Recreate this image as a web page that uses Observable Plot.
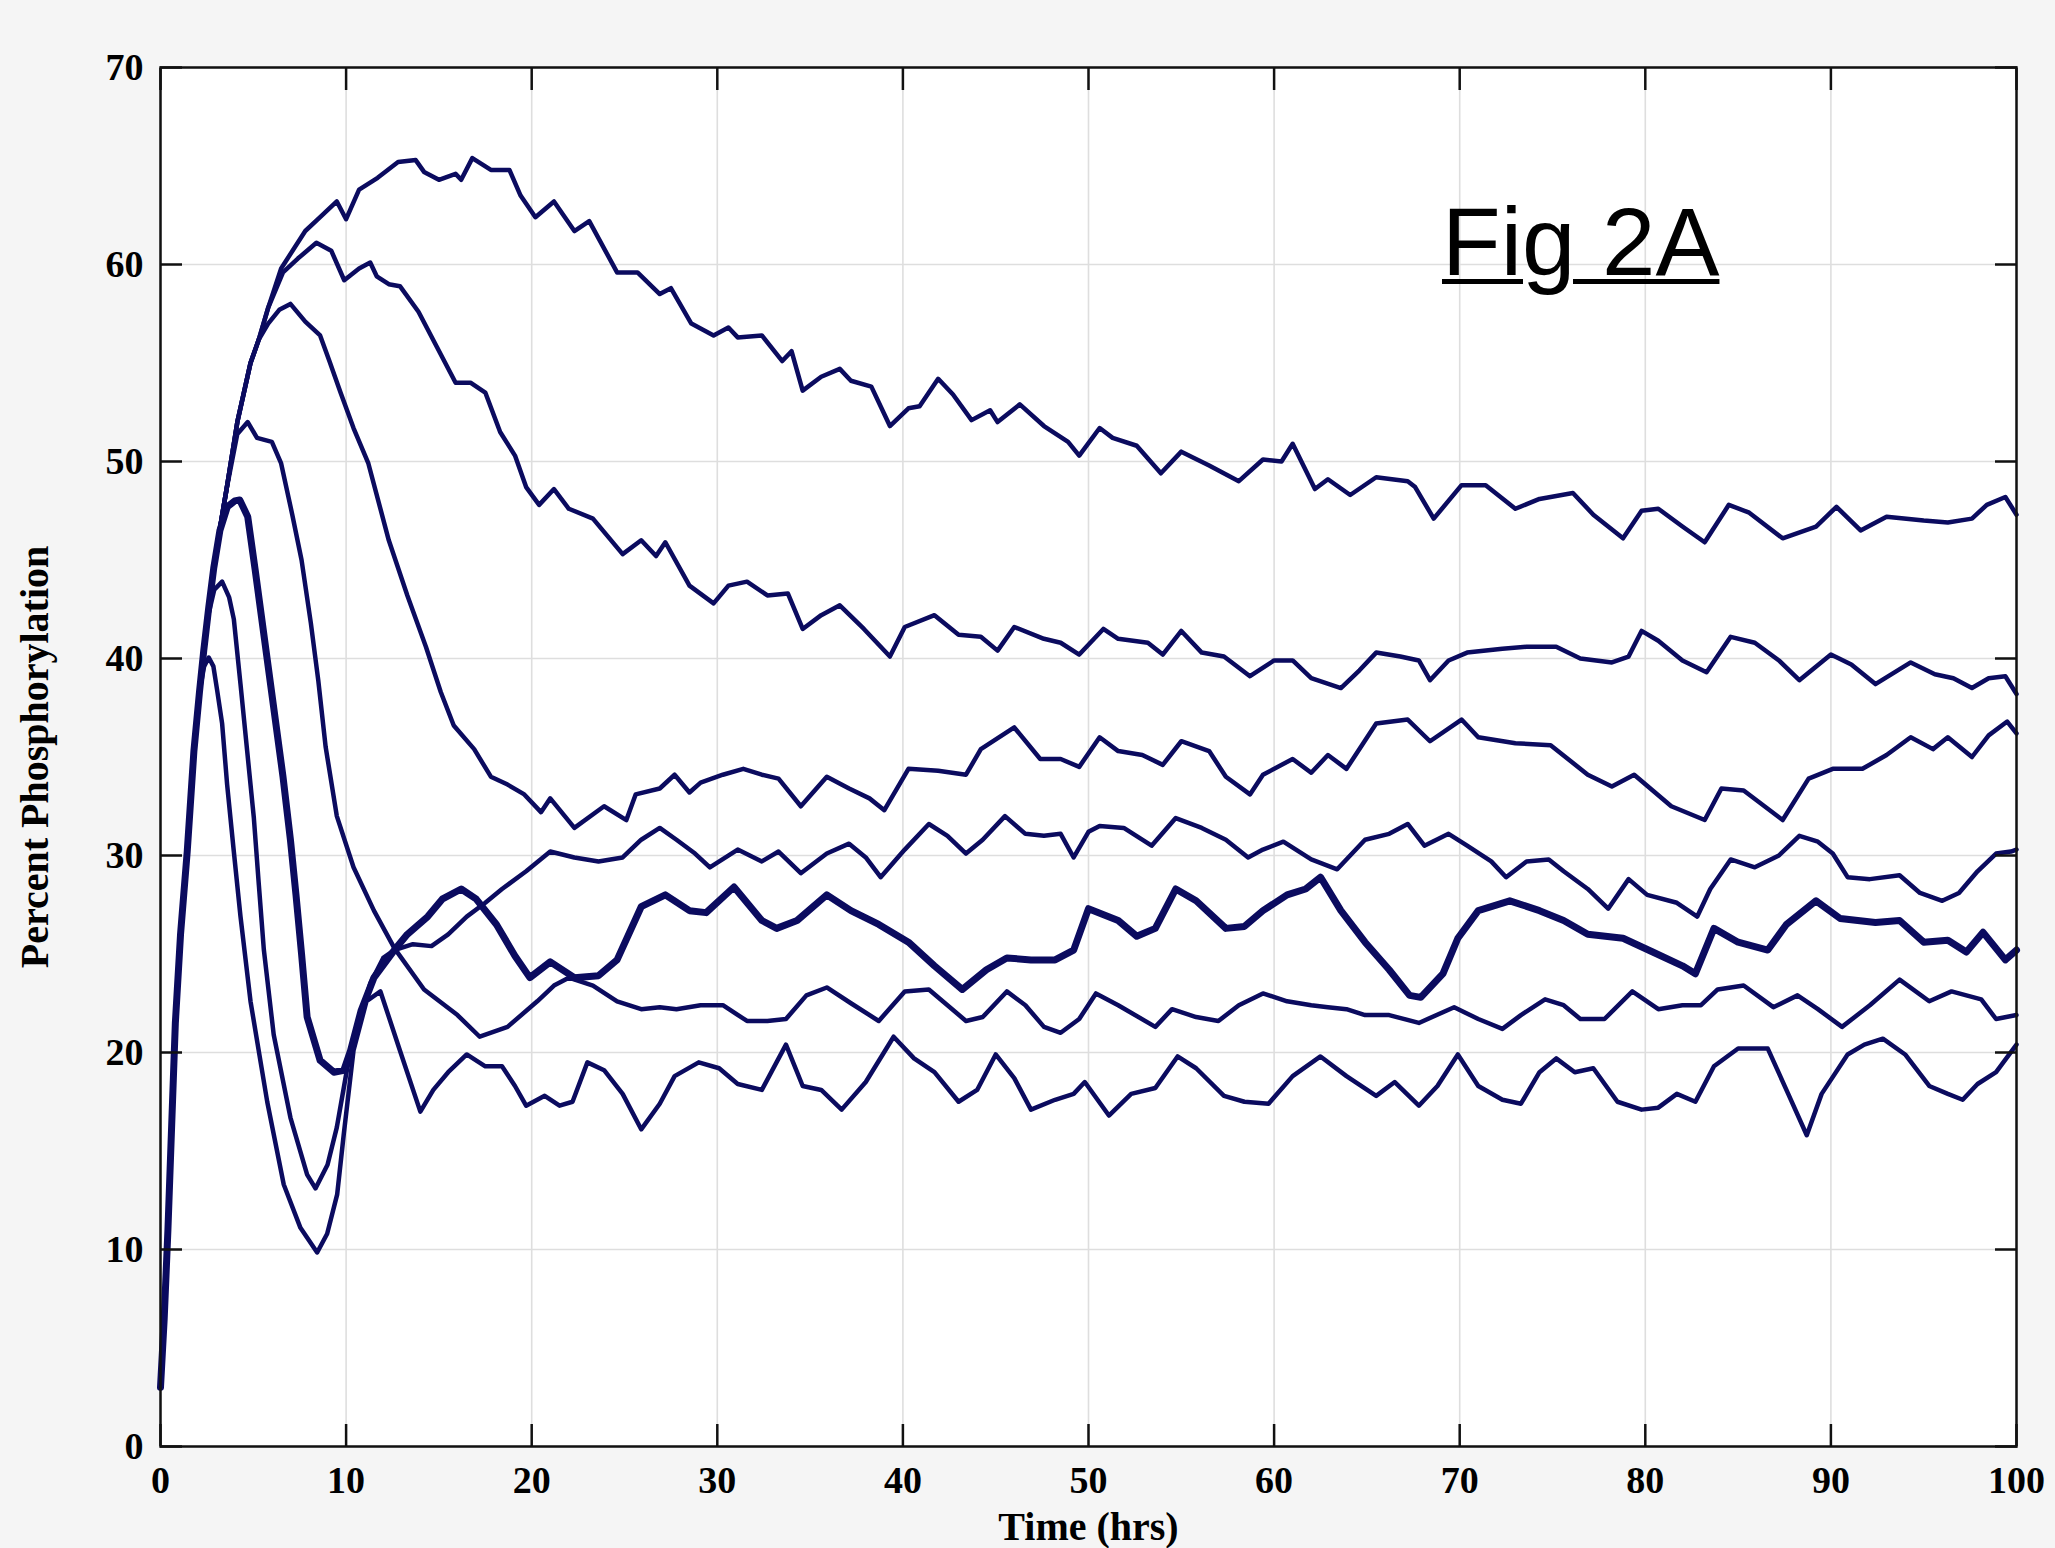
<!DOCTYPE html>
<html><head><meta charset="utf-8">
<script src="https://cdn.jsdelivr.net/npm/d3@7"></script>
<script src="https://cdn.jsdelivr.net/npm/@observablehq/plot@0.6"></script>
<style>
html,body{margin:0;padding:0;background:#f5f5f5;}
#wrap{position:relative;width:2055px;height:1548px;}
#wrap svg{position:absolute;left:0;top:0;display:block;}
#fig{position:absolute;left:1442px;top:194px;font-family:"Liberation Sans",Arial,sans-serif;font-size:96px;line-height:1;text-decoration:underline;text-decoration-thickness:5px;text-underline-offset:4px;color:#000;white-space:nowrap;}
</style></head><body>
<div id="wrap"><div id="fig">Fig 2A</div></div>
<script>
// ---- data (time in hrs, percent phosphorylation) ----
const xTicks = [0,10,20,30,40,50,60,70,80,90,100];
const yTicks = [0,10,20,30,40,50,60,70];

// common initial rise shared by all runs
const rise = [[0,3.0],[0.2,6.5],[0.4,11.0],[0.8,21.5],[1.08,26.0],[1.44,30.2],[1.8,35.3],[2.1,38.3]];
// common upper bundle of the higher runs
const bundle = [[2.33,40.4],[2.6,42.6],[2.87,44.6],[3.2,46.6],[3.56,48.6],[4.14,52.0],[4.85,55.0],[5.3,56.2]];

const s1Tail = [[5.8,57.8],[6.5,59.8],[7.8,61.7],[8.6,62.4],[9.5,63.2],[10.0,62.3],[10.7,63.8],[11.7,64.4],[12.8,65.2],[13.75,65.3],[14.2,64.7],[15.0,64.3],[15.9,64.6],[16.2,64.3],[16.8,65.4],[17.8,64.8],[18.8,64.8],[19.4,63.5],[20.2,62.4],[21.2,63.2],[22.3,61.7],[23.1,62.2],[24.6,59.6],[25.7,59.6],[26.9,58.5],[27.5,58.8],[28.6,57.0],[29.8,56.4],[30.6,56.8],[31.1,56.3],[32.4,56.4],[33.5,55.1],[34.0,55.6],[34.6,53.6],[35.6,54.3],[36.6,54.7],[37.2,54.1],[38.3,53.8],[39.3,51.8],[40.3,52.7],[40.9,52.8],[41.9,54.2],[42.7,53.4],[43.7,52.1],[44.7,52.6],[45.1,52.0],[46.3,52.9],[47.6,51.8],[48.9,51.0],[49.5,50.3],[50.6,51.7],[51.3,51.2],[52.6,50.8],[53.9,49.4],[55.0,50.5],[56.5,49.8],[58.1,49.0],[59.4,50.1],[60.4,50.0],[61.0,50.9],[62.2,48.6],[62.9,49.1],[64.1,48.3],[65.5,49.2],[67.2,49.0],[67.6,48.7],[68.6,47.1],[70.1,48.8],[71.4,48.8],[73.0,47.6],[74.3,48.1],[76.1,48.4],[77.2,47.3],[78.8,46.1],[79.8,47.5],[80.7,47.6],[82.0,46.7],[83.2,45.9],[84.5,47.8],[85.6,47.4],[87.4,46.1],[89.2,46.7],[90.3,47.7],[91.6,46.5],[93.0,47.2],[95.0,47.0],[96.3,46.9],[97.6,47.1],[98.4,47.8],[99.4,48.2],[100,47.3]];

const s2Tail = [[5.8,57.8],[6.6,59.6],[7.4,60.3],[8.4,61.1],[9.2,60.7],[9.9,59.2],[10.7,59.8],[11.3,60.1],[11.65,59.4],[12.3,59.0],[12.9,58.9],[13.9,57.6],[14.9,55.8],[15.9,54.0],[16.7,54.0],[17.5,53.5],[18.3,51.5],[19.1,50.3],[19.7,48.7],[20.4,47.8],[21.2,48.6],[22.0,47.6],[23.3,47.1],[24.9,45.3],[25.9,46.0],[26.7,45.2],[27.2,45.9],[28.5,43.7],[29.8,42.8],[30.6,43.7],[31.6,43.9],[32.7,43.2],[33.8,43.3],[34.6,41.5],[35.6,42.2],[36.6,42.7],[37.9,41.5],[39.3,40.1],[40.1,41.6],[41.7,42.2],[43.0,41.2],[44.2,41.1],[45.1,40.4],[46.0,41.6],[47.6,41.0],[48.5,40.8],[49.5,40.2],[50.8,41.5],[51.6,41.0],[53.2,40.8],[54.0,40.2],[55.0,41.4],[56.1,40.3],[57.3,40.1],[58.7,39.1],[60.0,39.9],[61.0,39.9],[62.0,39.0],[63.6,38.5],[64.6,39.4],[65.5,40.3],[66.8,40.1],[67.8,39.9],[68.4,38.9],[69.4,39.9],[70.4,40.3],[72.3,40.5],[73.6,40.6],[75.2,40.6],[76.5,40.0],[78.2,39.8],[79.1,40.1],[79.8,41.4],[80.7,40.9],[82.0,39.9],[83.3,39.3],[84.6,41.1],[85.9,40.8],[87.2,39.9],[88.3,38.9],[90.0,40.2],[91.1,39.7],[92.4,38.7],[94.3,39.8],[95.6,39.2],[96.6,39.0],[97.6,38.5],[98.5,39.0],[99.4,39.1],[100,38.2]];

const s3Tail = [[5.8,57.0],[6.4,57.7],[7.0,58.0],[7.8,57.1],[8.6,56.4],[9.1,55.1],[9.7,53.5],[10.4,51.7],[11.2,49.9],[12.3,46.0],[13.3,43.2],[14.3,40.6],[15.1,38.3],[15.8,36.6],[16.9,35.4],[17.8,34.0],[18.7,33.6],[19.6,33.1],[20.5,32.2],[21.0,32.9],[22.3,31.4],[23.9,32.5],[25.1,31.8],[25.6,33.1],[26.9,33.4],[27.7,34.1],[28.5,33.2],[29.1,33.7],[30.3,34.1],[31.4,34.4],[32.4,34.1],[33.3,33.9],[34.5,32.5],[35.9,34.0],[37.1,33.4],[38.2,32.9],[39.0,32.3],[40.3,34.4],[41.9,34.3],[43.4,34.1],[44.2,35.4],[46.0,36.5],[47.4,34.9],[48.5,34.9],[49.5,34.5],[50.6,36.0],[51.6,35.3],[52.9,35.1],[54.0,34.6],[55.0,35.8],[56.5,35.3],[57.4,34.0],[58.7,33.1],[59.4,34.1],[61.0,34.9],[62.0,34.2],[62.9,35.1],[63.9,34.4],[65.5,36.7],[67.2,36.9],[68.4,35.8],[70.1,36.9],[71.0,36.0],[73.0,35.7],[74.9,35.6],[76.9,34.1],[78.2,33.5],[79.4,34.1],[81.4,32.5],[83.2,31.8],[84.1,33.4],[85.3,33.3],[87.4,31.8],[88.8,33.9],[90.1,34.4],[91.7,34.4],[93.0,35.1],[94.3,36.0],[95.5,35.4],[96.3,36.0],[97.6,35.0],[98.5,36.1],[99.5,36.8],[100,36.2]];

const s4Tail = [[4.14,51.4],[4.7,52.0],[5.2,51.2],[6.0,51.0],[6.5,49.9],[7.1,47.3],[7.6,45.0],[8.1,41.8],[8.5,38.9],[8.9,35.5],[9.5,32.0],[10.4,29.4],[11.5,27.2],[12.6,25.3],[14.2,23.2],[16.0,21.9],[17.2,20.8],[18.7,21.3],[20.3,22.6],[21.2,23.4],[22.0,23.8],[23.3,23.4],[24.6,22.6],[25.9,22.2],[26.9,22.3],[27.8,22.2],[29.1,22.4],[30.3,22.4],[31.6,21.6],[32.7,21.6],[33.7,21.7],[34.8,22.9],[35.9,23.3],[37.2,22.5],[38.7,21.6],[40.1,23.1],[41.4,23.2],[43.4,21.6],[44.3,21.8],[45.6,23.1],[46.6,22.4],[47.6,21.3],[48.5,21.0],[49.5,21.7],[50.4,23.0],[51.6,22.4],[53.6,21.3],[54.5,22.2],[55.8,21.8],[57.0,21.6],[58.1,22.4],[59.4,23.0],[60.7,22.6],[62.0,22.4],[62.9,22.3],[63.9,22.2],[64.9,21.9],[66.2,21.9],[67.8,21.5],[69.7,22.3],[71.0,21.7],[72.3,21.2],[73.3,21.9],[74.6,22.7],[75.6,22.4],[76.5,21.7],[77.8,21.7],[79.3,23.1],[80.7,22.2],[82.0,22.4],[83.0,22.4],[83.9,23.2],[85.3,23.4],[86.9,22.3],[88.2,22.9],[89.3,22.2],[90.6,21.3],[92.1,22.4],[93.7,23.7],[95.3,22.6],[96.5,23.1],[98.1,22.7],[98.9,21.7],[100,21.9]];

const s5Tail = [[3.2,46.5],[3.6,47.7],[4.0,48.0],[4.27,48.05],[4.7,47.2],[5.1,44.5],[5.6,41.0],[6.1,37.5],[6.6,34.0],[7.0,30.8],[7.3,28.0],[7.6,25.0],[7.9,21.8],[8.6,19.6],[9.34,19.0],[9.88,19.1],[10.24,20.1],[10.8,22.1],[11.5,23.8],[12.6,25.2],[13.3,26.0],[14.4,26.9],[15.2,27.8],[16.2,28.3],[17.0,27.8],[18.1,26.5],[19.1,24.9],[19.9,23.8],[21.0,24.6],[22.3,23.8],[23.6,23.9],[24.6,24.7],[25.9,27.4],[27.2,28.0],[28.5,27.2],[29.4,27.1],[30.9,28.4],[32.4,26.7],[33.2,26.3],[34.3,26.7],[35.9,28.0],[37.2,27.2],[38.7,26.5],[40.3,25.6],[41.7,24.4],[43.2,23.2],[44.5,24.2],[45.6,24.8],[46.9,24.7],[48.2,24.7],[49.2,25.2],[50.0,27.3],[51.6,26.7],[52.6,25.9],[53.6,26.3],[54.7,28.3],[55.8,27.7],[57.4,26.3],[58.4,26.4],[59.4,27.2],[60.7,28.0],[61.7,28.3],[62.5,28.9],[63.6,27.2],[64.9,25.6],[66.2,24.2],[67.3,22.9],[67.9,22.8],[69.1,24.0],[69.9,25.8],[71.0,27.2],[72.7,27.7],[74.3,27.2],[75.6,26.7],[76.9,26.0],[78.8,25.8],[80.4,25.1],[82.0,24.4],[82.7,24.0],[83.7,26.3],[85.0,25.6],[86.6,25.2],[87.6,26.5],[89.2,27.7],[90.5,26.8],[92.4,26.6],[93.7,26.7],[95.0,25.6],[96.3,25.7],[97.3,25.1],[98.2,26.1],[99.4,24.7],[100,25.2]];

const s6Tail = [[2.33,40.4],[2.6,42.3],[2.9,43.5],[3.32,43.9],[3.7,43.1],[3.95,42.0],[4.31,38.7],[4.67,35.3],[5.03,31.9],[5.3,28.5],[5.57,25.2],[6.1,20.9],[7.0,16.7],[7.9,13.8],[8.35,13.1],[9.0,14.3],[9.5,16.2],[10.06,19.2],[10.6,21.3],[11.3,23.5],[12.0,24.8],[12.6,25.2],[13.6,25.5],[14.6,25.4],[15.5,26.0],[16.5,26.9],[17.5,27.6],[18.4,28.3],[19.7,29.2],[21.0,30.2],[22.3,29.9],[23.6,29.7],[24.9,29.9],[25.9,30.8],[26.9,31.4],[27.8,30.8],[28.8,30.1],[29.6,29.4],[31.1,30.3],[32.4,29.7],[33.3,30.2],[34.5,29.1],[35.9,30.1],[37.1,30.6],[38.0,29.9],[38.8,28.9],[40.1,30.3],[41.4,31.6],[42.4,31.0],[43.4,30.1],[44.3,30.8],[45.5,32.0],[46.6,31.1],[47.6,31.0],[48.5,31.1],[49.2,29.9],[50.0,31.2],[50.6,31.5],[51.9,31.4],[53.4,30.5],[54.7,31.9],[56.1,31.4],[57.4,30.8],[58.6,29.9],[59.4,30.3],[60.5,30.7],[62.0,29.8],[63.4,29.3],[64.9,30.8],[66.2,31.1],[67.2,31.6],[68.1,30.5],[69.4,31.1],[70.4,30.5],[71.7,29.7],[72.5,28.9],[73.6,29.7],[74.8,29.8],[75.6,29.2],[76.9,28.3],[78.0,27.3],[79.1,28.8],[80.1,28.0],[81.7,27.6],[82.8,26.9],[83.5,28.3],[84.6,29.8],[85.9,29.4],[87.2,30.0],[88.3,31.0],[89.3,30.7],[90.1,30.1],[90.9,28.9],[92.1,28.8],[93.7,29.0],[94.8,28.1],[96.0,27.7],[96.9,28.1],[97.9,29.2],[98.9,30.1],[99.7,30.2],[100,30.3]];

const s7Tail = [[2.35,39.6],[2.6,40.05],[2.85,39.6],[3.05,38.4],[3.32,36.7],[3.59,33.6],[3.95,30.2],[4.31,26.9],[4.85,22.6],[5.75,17.5],[6.64,13.3],[7.54,11.1],[8.44,9.85],[8.98,10.8],[9.52,12.8],[9.88,15.9],[10.4,20.1],[11.1,22.6],[11.85,23.1],[12.9,20.1],[14.0,17.0],[14.7,18.1],[15.5,19.0],[16.5,19.9],[17.5,19.3],[18.4,19.3],[19.1,18.3],[19.7,17.3],[20.7,17.8],[21.5,17.3],[22.2,17.5],[23.0,19.5],[23.9,19.1],[24.9,17.9],[25.9,16.1],[26.9,17.4],[27.7,18.8],[29.0,19.5],[30.1,19.2],[31.1,18.4],[32.4,18.1],[33.7,20.4],[34.6,18.3],[35.6,18.1],[36.7,17.1],[38.0,18.5],[39.5,20.8],[40.6,19.7],[41.7,19.0],[43.0,17.5],[44.0,18.1],[45.0,19.9],[46.0,18.7],[46.9,17.1],[48.2,17.6],[49.2,17.9],[49.8,18.5],[51.1,16.8],[52.3,17.9],[53.6,18.2],[54.8,19.8],[55.8,19.2],[57.3,17.8],[58.4,17.5],[59.7,17.4],[61.0,18.8],[62.5,19.8],[63.9,18.8],[65.5,17.8],[66.5,18.5],[67.8,17.3],[68.8,18.3],[69.9,19.9],[71.0,18.3],[72.3,17.6],[73.3,17.4],[74.3,19.0],[75.2,19.7],[76.2,19.0],[77.2,19.2],[78.5,17.5],[79.8,17.1],[80.7,17.2],[81.7,17.9],[82.7,17.5],[83.7,19.3],[85.0,20.2],[86.6,20.2],[87.7,17.9],[88.7,15.8],[89.5,17.9],[90.9,19.9],[91.8,20.4],[92.8,20.7],[94.0,19.9],[95.3,18.3],[96.3,17.9],[97.1,17.6],[97.9,18.4],[98.9,19.0],[100,20.4]];

const runs = [
  {name: "run1", thick: false, pts: [...rise, ...bundle, ...s1Tail]},
  {name: "run2", thick: false, pts: [...rise, ...bundle, ...s2Tail]},
  {name: "run3", thick: false, pts: [...rise, ...bundle, ...s3Tail]},
  {name: "run4", thick: false, pts: [...rise, ...bundle.slice(0, 5), ...s4Tail]},
  {name: "run5", thick: true,  pts: [...rise, ...bundle.slice(0, 3), ...s5Tail]},
  {name: "run6", thick: false, pts: [...rise, ...s6Tail]},
  {name: "run7", thick: false, pts: [...rise, ...s7Tail]}
];

const rows = runs.flatMap(r => r.pts.map(([t, v]) => ({run: r.name, thick: r.thick, t, v})));
const thinRows = rows.filter(d => !d.thick);
const thickRows = rows.filter(d => d.thick);

const lineColor = "#0b0b5f";
const gridColor = "#dedede";
const serif = "'Liberation Serif','Times New Roman',serif";

const chart = Plot.plot({
  width: 2055,
  height: 1548,
  marginLeft: 160,
  marginRight: 39,
  marginTop: 67,
  marginBottom: 102,
  style: {background: "#f5f5f5", fontFamily: serif, fontSize: "38px", fontWeight: "bold", color: "#000", overflow: "visible"},
  x: {domain: [0, 100]},
  y: {domain: [0, 70]},
  marks: [
    Plot.frame({fill: "white", stroke: null}),
    Plot.gridX({ticks: xTicks, stroke: gridColor, strokeOpacity: 1, strokeWidth: 1.6}),
    Plot.gridY({ticks: yTicks, stroke: gridColor, strokeOpacity: 1, strokeWidth: 1.6}),
    Plot.line(thinRows, {x: "t", y: "v", z: "run", stroke: lineColor, strokeWidth: 4.5, strokeLinejoin: "round"}),
    Plot.line(thickRows, {x: "t", y: "v", z: "run", stroke: lineColor, strokeWidth: 7, strokeLinejoin: "round"}),
    Plot.axisX({ticks: xTicks, anchor: "bottom", tickSize: -22, tickFormat: () => "", label: null, strokeWidth: 2.5, stroke: "#111"}),
    Plot.axisX({ticks: xTicks, anchor: "top", tickSize: -22, tickFormat: () => "", label: null, strokeWidth: 2.5, stroke: "#111"}),
    Plot.axisY({ticks: yTicks, anchor: "left", tickSize: -22, tickFormat: () => "", label: null, strokeWidth: 2.5, stroke: "#111"}),
    Plot.axisY({ticks: yTicks, anchor: "right", tickSize: -22, tickFormat: () => "", label: null, strokeWidth: 2.5, stroke: "#111"}),
    Plot.axisX({ticks: xTicks, anchor: "bottom", tickSize: 0, tickPadding: 20, fontSize: 38, label: null}),
    Plot.axisX({ticks: [], anchor: "bottom", tickSize: 0, fontSize: 40, label: "Time (hrs)", labelAnchor: "center", labelOffset: 93, labelArrow: "none"}),
    Plot.axisY({ticks: yTicks, anchor: "left", tickSize: 0, tickPadding: 17, fontSize: 38, label: null}),
    Plot.axisY({ticks: [], anchor: "left", tickSize: 0, fontSize: 40, label: "Percent Phosphorylation", labelAnchor: "center", labelOffset: 141, labelArrow: "none"}),
    Plot.frame({stroke: "#111", strokeWidth: 2.5})
  ]
});
const wrap = document.getElementById("wrap");
wrap.insertBefore(chart, document.getElementById("fig"));
</script>
</body></html>
